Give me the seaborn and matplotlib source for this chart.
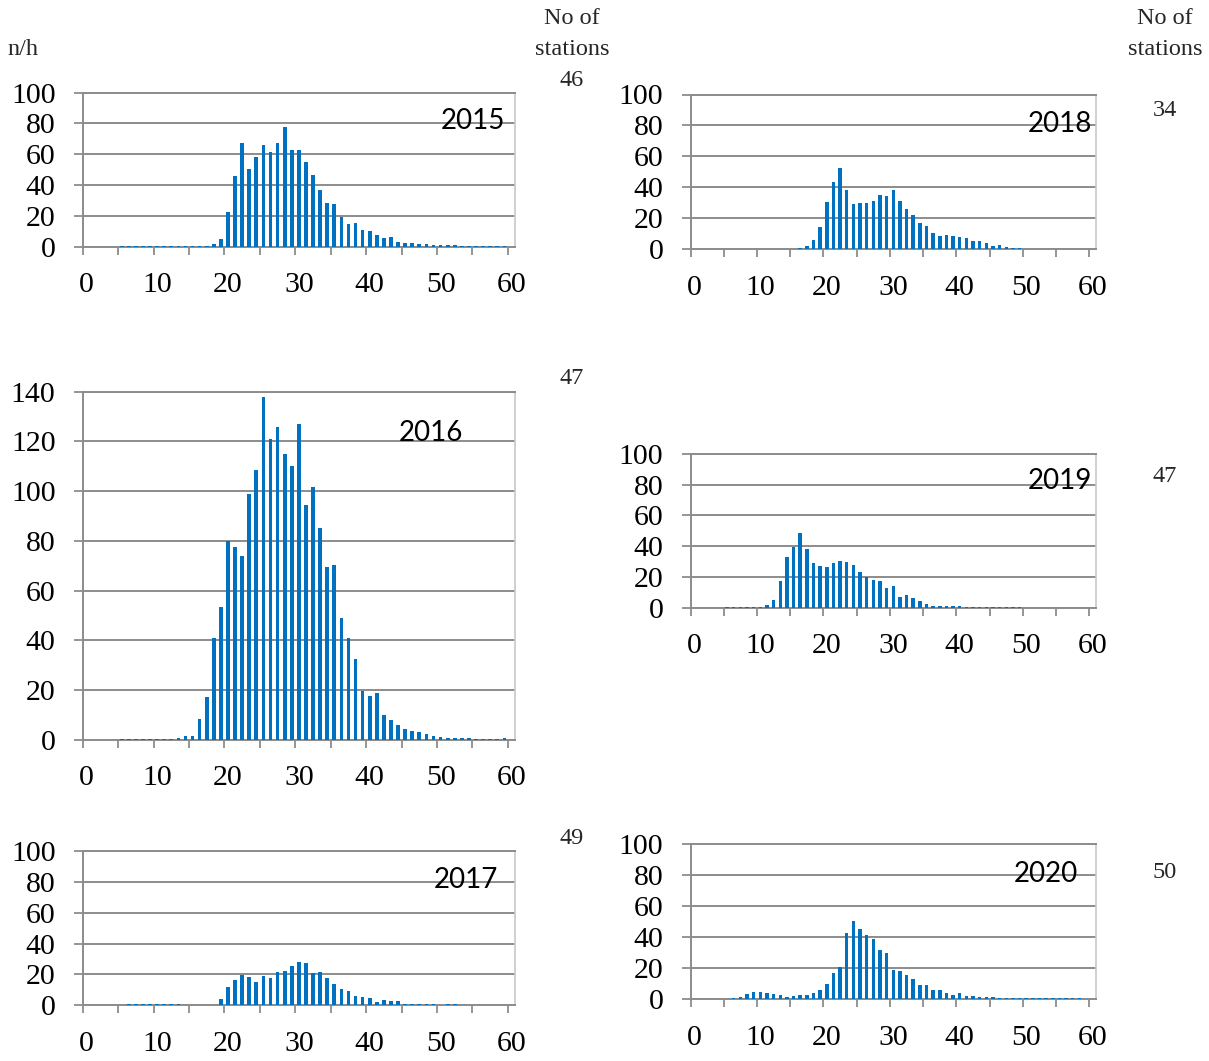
import matplotlib
matplotlib.use("Agg")
import matplotlib.pyplot as plt
import numpy as np
import pandas as pd
import seaborn as sns

# Speed classes (km/h) shown on the horizontal axis
speeds = list(range(61))

# Vehicles per hour in each speed class
n_2015 = [0, 0, 0, 0, 0, 0.5, 0.5, 0.6, 0.5, 0.5, 0.6, 0.5, 0.5, 0.5, 0.5, 0.6, 0.6, 0.7, 1.5, 5,
          22.5, 46, 67, 50.5, 58.5, 66, 61.5, 67, 77.5, 63, 62.5, 55, 46.5, 37, 28.5, 27.5, 19.5, 14.5, 15.5, 11,
          10, 7.5, 5.5, 6.5, 3, 2.5, 2.2, 1.5, 1.5, 1.3, 1.3, 0.8, 0.8, 0.6, 0.6, 0.5, 0.5, 0.5, 0.5, 0.5, 0]
n_2016 = [0, 0, 0, 0, 0, 0.4, 0.4, 0.4, 0.4, 0.4, 0.4, 0.4, 0.4, 0.8, 1.3, 1.6, 8.2, 17.2, 41, 53.5,
          80, 77.5, 74, 99, 108.5, 138, 121, 126, 115, 110, 127, 94.5, 101.5, 85, 69.5, 70.3, 49, 41, 32.5, 19.6,
          17.6, 18.7, 9.8, 7.9, 6, 4.4, 3.5, 3.1, 2.3, 1.6, 1.1, 0.7, 0.8, 0.5, 0.7, 0.4, 0.4, 0.4, 0.4, 0.5, 0]
n_2017 = [0, 0, 0, 0, 0, 0, 0.6, 0.7, 0.9, 0.9, 0.6, 0.6, 0.6, 0.6, 0, 0.5, 0.5, 0.5, 0.5, 3.9,
          12.1, 16.4, 19.7, 18.1, 15.1, 19, 17.7, 21.4, 22, 25.5, 28.1, 27.2, 21.2, 21.6, 17.5, 13.6, 10.4, 9.5, 6, 5.4,
          5, 2.4, 3.2, 2.8, 2.8, 0.9, 1.1, 1.1, 0.9, 0.6, 0, 0.6, 0.6, 0, 0, 0, 0, 0, 0, 0, 0]
n_2018 = [0, 0, 0, 0, 0, 0.5, 0.5, 0.5, 0.5, 0.5, 0.5, 0.5, 0.5, 0.5, 0.5, 0.5, 0.6, 2.2, 6.2, 14.4,
          30.8, 43.5, 52.4, 38.2, 29.3, 30.2, 29.7, 31.5, 35.1, 34.5, 38.6, 31, 26.1, 22.4, 17.2, 15.1, 10.3, 8.8, 9.3, 8.6,
          7.8, 7.1, 5.6, 5.6, 4.1, 1.9, 3, 1.3, 0.6, 0.9, 0.5, 0.5, 0.5, 0.5, 0.5, 0.5, 0.5, 0.5, 0.5, 0.5, 0]
n_2019 = [0, 0, 0, 0, 0, 0.5, 0.5, 0.5, 0.5, 0.5, 0.5, 1.5, 5, 17.2, 32.8, 39.3, 48.3, 38, 29.1, 27,
          26.3, 28.7, 30, 29.6, 28, 23.3, 19.8, 17.6, 17.2, 13, 13.9, 6.7, 8.3, 6.1, 4.1, 2.4, 1.3, 1.3, 1.1, 0.9,
          0.9, 0.6, 0.6, 0.5, 0.5, 0.5, 0.5, 0.5, 0.5, 0.5, 0, 0, 0, 0, 0, 0, 0, 0, 0, 0, 0]
n_2020 = [0, 0, 0, 0, 0, 0, 0.5, 1.5, 3, 4.5, 4.5, 4.1, 3.4, 2.4, 1.3, 1.7, 2.8, 2.8, 3.9, 5.6,
          9.5, 16.8, 20.7, 42.5, 50.4, 45.3, 41.4, 38.6, 31.7, 30, 18.8, 18.3, 15.5, 12.9, 9.1, 9.3, 5.6, 5.6, 3.7, 2.8,
          3.7, 2.2, 1.9, 1.1, 1.1, 1.1, 0.5, 0.5, 0.5, 0.5, 0.5, 0.5, 0.5, 0.5, 0.5, 0.5, 0.5, 0.5, 0.5, 0, 0]

years = ["2015", "2016", "2017", "2018", "2019", "2020"]
station_counts = [46, 47, 49, 34, 47, 50]
y_max = [100, 140, 100, 100, 100, 100]

sns.set_theme(style="white")
plt.rcParams["font.family"] = ["Liberation Serif", "DejaVu Serif"]

W, H = 1209, 1061
fig = plt.figure(figsize=(W / 100, H / 100), dpi=100)

BLUE = "#0070C0"
GRID = "#8c8c8c"
EDGE = "#c8c8c8"
TICK_FS = 21.5
NOTE_FS = 17.5


def axes_px(x0, y0, x1, y1):
    return fig.add_axes([x0 / W, 1 - y1 / H, (x1 - x0) / W, (y1 - y0) / H])


def text_px(x, y, s, **kw):
    fig.text(x / W, 1 - y / H, s, **kw)


# panel boxes in pixels: left, top, right, bottom
boxes = [
    (82.7, 92.7, 515, 246.6),
    (82.7, 391.7, 515, 739.7),
    (82.7, 851, 515, 1005.3),
    (690.5, 94.5, 1096, 249.3),
    (690.5, 454, 1096, 607.5),
    (690.5, 844.3, 1096, 999),
]
# year label anchor: right edge x, baseline y
year_pos = [(505, 129.3), (462.7, 441), (497.7, 888.3), (1092.3, 131.7), (1092, 489.3), (1077.7, 881.7)]
# station count centre
station_pos = [(572, 80), (572, 378), (572, 838), (1165, 111), (1165, 476), (1165, 872)]

series = [n_2015, n_2016, n_2017, n_2018, n_2019, n_2020]

for vals, box, ymax, year, ypos, count, spos in zip(series, boxes, y_max, years, year_pos,
                                                     station_counts, station_pos):
    ax = axes_px(*box)
    df = pd.DataFrame({"speed": speeds, "n": vals})
    sns.barplot(data=df, x="speed", y="n", order=speeds, color=BLUE, saturation=1,
                width=0.52, linewidth=0, errorbar=None, ax=ax, zorder=3)
    ax.set_xlim(-0.5, 60.5)
    ax.set_ylim(0, ymax)
    ax.set_xlabel("")
    ax.set_ylabel("")

    ax.set_yticks(range(0, ymax + 1, 20))
    ax.yaxis.grid(True, color=GRID, lw=1.4)
    ax.xaxis.grid(False)
    ax.set_axisbelow(True)

    ax.set_xticks(range(0, 61, 10))
    ax.set_xticklabels([str(v) for v in range(0, 61, 10)])
    ax.set_xticks(np.arange(-0.5, 60, 5), minor=True)
    ax.tick_params(axis="x", which="major", length=0, pad=18.5, labelsize=TICK_FS, labelcolor="black")
    ax.tick_params(axis="x", which="minor", length=6, width=1.3, color=GRID, direction="out",
                   bottom=True)
    ax.tick_params(axis="y", which="major", length=6.5, width=1.3, color=GRID, direction="out",
                   pad=13, labelsize=TICK_FS, labelcolor="black", left=True)

    for side in ("left", "bottom", "top"):
        ax.spines[side].set_color(GRID)
        ax.spines[side].set_linewidth(1.4)
    ax.spines["right"].set_color(EDGE)
    ax.spines["right"].set_linewidth(1.2)

    text_px(ypos[0], ypos[1], year, family="Lato", fontsize=20, ha="right", va="baseline",
            color="black", zorder=5)
    text_px(spos[0], spos[1], str(count), fontsize=NOTE_FS, ha="center", va="center")

# header texts
text_px(7, 49, "n/h", fontsize=NOTE_FS, ha="left", va="center")
for cx in (572, 1165):
    text_px(cx, 18, "No of", fontsize=NOTE_FS, ha="center", va="center")
    text_px(cx, 49, "stations", fontsize=NOTE_FS, ha="center", va="center")

fig.savefig("out.png", dpi=100)
